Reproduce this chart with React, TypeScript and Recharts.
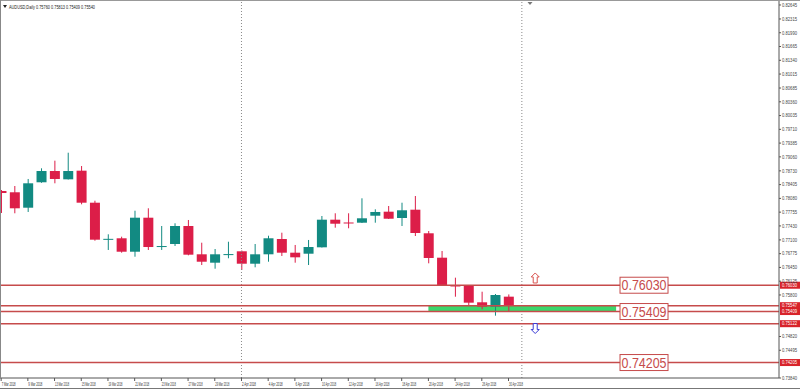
import {
  ComposedChart,
  Bar,
  XAxis,
  YAxis,
  ReferenceLine,
  ReferenceArea,
  ReferenceDot,
} from "recharts";

// AUDUSD daily, 7 Mar 2018 .. 30 Apr 2018
const dates = [
  "7 Mar 2018", "8 Mar 2018", "9 Mar 2018", "12 Mar 2018", "13 Mar 2018",
  "14 Mar 2018", "15 Mar 2018", "16 Mar 2018", "19 Mar 2018", "20 Mar 2018",
  "21 Mar 2018", "22 Mar 2018", "23 Mar 2018", "26 Mar 2018", "27 Mar 2018",
  "28 Mar 2018", "29 Mar 2018", "30 Mar 2018", "2 Apr 2018", "3 Apr 2018",
  "4 Apr 2018", "5 Apr 2018", "6 Apr 2018", "9 Apr 2018", "10 Apr 2018",
  "11 Apr 2018", "12 Apr 2018", "13 Apr 2018", "16 Apr 2018", "17 Apr 2018",
  "18 Apr 2018", "19 Apr 2018", "20 Apr 2018", "23 Apr 2018", "24 Apr 2018",
  "25 Apr 2018", "26 Apr 2018", "27 Apr 2018", "30 Apr 2018",
];

const opens = [
  0.78254, 0.78224, 0.7786, 0.7846, 0.78726, 0.7853, 0.78734, 0.77978, 0.77121,
  0.77138, 0.76821, 0.77624, 0.76949, 0.77003, 0.77428, 0.7676, 0.76562, 0.7676,
  0.76831, 0.76538, 0.7676, 0.77121, 0.76798, 0.76774, 0.76925, 0.77577, 0.77511,
  0.77506, 0.77671, 0.77766, 0.77617, 0.77813, 0.77256, 0.7668, 0.76024, 0.76028,
  0.75627, 0.75523, 0.7576,
];
const highs = [
  0.78278, 0.78372, 0.78538, 0.7879, 0.7897, 0.79158, 0.78844, 0.78025, 0.77232,
  0.77176, 0.77789, 0.77846, 0.77428, 0.77492, 0.7757, 0.77034, 0.76885, 0.77057,
  0.7685, 0.77003, 0.77199, 0.7727, 0.7698, 0.77098, 0.77664, 0.77728, 0.77728,
  0.78082, 0.77822, 0.779, 0.77978, 0.78136, 0.7731, 0.76838, 0.76208, 0.76035,
  0.75877, 0.75823, 0.75813,
];
const lows = [
  0.77735, 0.77728, 0.77759, 0.78448, 0.78436, 0.78526, 0.7794, 0.77081, 0.76862,
  0.76798, 0.76703, 0.76862, 0.76862, 0.76956, 0.76736, 0.76507, 0.7642, 0.76666,
  0.7639, 0.76453, 0.76585, 0.7672, 0.76562, 0.76507, 0.7692, 0.77388, 0.77374,
  0.77499, 0.77506, 0.77593, 0.77428, 0.77192, 0.76547, 0.76012, 0.75759, 0.7554,
  0.75462, 0.75311, 0.75409,
];
const closes = [
  0.78207, 0.77846, 0.78436, 0.78726, 0.78538, 0.78726, 0.77978, 0.77105, 0.77125,
  0.76821, 0.77624, 0.76932, 0.76955, 0.77428, 0.76751, 0.76585, 0.7676, 0.76765,
  0.76538, 0.7676, 0.77138, 0.76798, 0.76689, 0.76932, 0.77577, 0.77482, 0.77502,
  0.7761, 0.77759, 0.776, 0.77799, 0.77263, 0.76673, 0.76019, 0.76012, 0.75618,
  0.75523, 0.75799, 0.7554,
];

const priceTicks = [
  0.82645, 0.82315, 0.8199, 0.81665, 0.8134, 0.81015, 0.80685, 0.8036, 0.80035,
  0.7971, 0.79385, 0.7906, 0.7873, 0.78405, 0.7808, 0.77755, 0.7743, 0.771,
  0.76775, 0.7645, 0.76125, 0.758, 0.7482, 0.74495, 0.7384,
];

// horizontal levels drawn on the chart
const levels = [0.7603, 0.75547, 0.75409, 0.75122, 0.74205];
const boxedLevels = [0.7603, 0.75409, 0.74205];

// green buy zone
const zoneFrom = 32;
const zoneTo = 46.06;
const zoneLow = 0.75409;
const zoneHigh = 0.75547;

// month separators (2 Apr, 1 May)
const separators = [18, 39];

const arrowUp = { i: 40, price: 0.76201 };
const arrowDown = { i: 40, price: 0.75008 };
const labelAt = 48.15;

const BULL = "#128a82";
const BEAR = "#dc1e48";
const LEVEL = "#c64b4b";

const data = dates.map((d, i) => ({
  i,
  date: d,
  open: opens[i],
  high: highs[i],
  low: lows[i],
  close: closes[i],
  range: [lows[i], highs[i]],
}));

function Candle(props: any) {
  const { x, y, width, height, payload } = props;
  const { open, close, high, low } = payload;
  const top = Math.min(y, y + height);
  const span = Math.abs(height);
  const px = (v: number) => top + ((high - v) / (high - low)) * span;
  const color = close >= open ? BULL : BEAR;
  const cx = x + width / 2;
  const bodyTop = px(Math.max(open, close));
  const bodyH = Math.max(1, px(Math.min(open, close)) - bodyTop);
  return (
    <g>
      <line x1={cx} x2={cx} y1={top} y2={top + span} stroke={color} strokeWidth={1} />
      <rect x={x} y={bodyTop} width={width} height={bodyH} fill={color} />
    </g>
  );
}

function DateTick({ x, y, payload }: any) {
  return (
    <text x={x + 0.5} y={y + 3.5} fontSize={5} fill="#333" textLength={14} lengthAdjust="spacingAndGlyphs">
      {dates[payload.value]}
    </text>
  );
}

function PriceTick({ x, y, payload }: any) {
  return (
    <text x={x} y={y + 1.8} fontSize={5} fill="#444" textLength={15} lengthAdjust="spacingAndGlyphs">
      {payload.value.toFixed(5)}
    </text>
  );
}

function AxisFlag({ viewBox, value }: any) {
  const x = viewBox.x + viewBox.width + 1;
  const y = viewBox.y;
  return (
    <g>
      <rect x={x} y={y - 3.5} width={20} height={7} fill="#d8232a" />
      <text x={x + 2} y={y + 1.8} fontSize={5} fill="#fff" textLength={15} lengthAdjust="spacingAndGlyphs">
        {value}
      </text>
    </g>
  );
}

function LevelBox(value: number) {
  return (props: any) => (
    <g>
      <rect x={props.cx - 24} y={props.cy - 8} width={48} height={16} fill="#fff" stroke={LEVEL} strokeWidth={1} />
      <text
        x={props.cx - 22.5}
        y={props.cy + 5}
        fontSize={14}
        fill={LEVEL}
        fontFamily="Liberation Sans, Arial, sans-serif"
        textLength={45}
        lengthAdjust="spacingAndGlyphs"
      >
        {value.toFixed(5)}
      </text>
    </g>
  );
}

function Arrow(up: boolean, color: string) {
  return ({ cx, cy }: any) => {
    const s = up ? 1 : -1;
    const pts = [
      [0, -5], [4, -1], [2, -1], [2, 5], [-2, 5], [-2, -1], [-4, -1],
    ]
      .map(([dx, dy]) => `${cx + dx},${cy + dy * s}`)
      .join(" ");
    return <polygon points={pts} fill="#fff" stroke={color} strokeWidth={1} />;
  };
}

export default function App() {
  return (
    <div
      style={{
        position: "absolute",
        left: 0,
        top: 0,
        width: 800,
        height: 389,
        background: "#fff",
        fontFamily: "Liberation Sans, Arial, sans-serif",
      }}
    >
      <ComposedChart width={800} height={389} data={data} margin={{ top: 0, right: 0, bottom: 0, left: 0 }}>
        <XAxis
          dataKey="i"
          type="number"
          domain={[-0.086, 58.26]}
          allowDataOverflow
          ticks={dates.map((_, i) => i).filter((i) => i % 2 === 0)}
          interval={0}
          height={11}
          tick={<DateTick />}
          tickSize={3}
          tickMargin={1}
          axisLine={{ stroke: "#555" }}
          tickLine={{ stroke: "#555" }}
        />
        <YAxis
          orientation="right"
          type="number"
          domain={[0.7384, 0.82763]}
          allowDataOverflow
          ticks={priceTicks}
          interval={0}
          width={21}
          tick={<PriceTick />}
          tickSize={2}
          tickMargin={1}
          axisLine={{ stroke: "#555" }}
          tickLine={{ stroke: "#555" }}
        />
        <ReferenceArea
          x1={zoneFrom}
          x2={zoneTo}
          y1={zoneLow}
          y2={zoneHigh}
          fill="#3bd66b"
          fillOpacity={1}
          stroke="none"
        />
        {separators.map((s) => (
          <ReferenceLine key={s} x={s} stroke="#8a8a8a" strokeDasharray="1 2" />
        ))}
        <Bar dataKey="range" barSize={10} shape={Candle} isAnimationActive={false} />
        {levels.map((p) => (
          <ReferenceLine
            key={p}
            y={p}
            stroke={LEVEL}
            strokeWidth={1.4}
            label={<AxisFlag value={p.toFixed(5)} />}
          />
        ))}
        {boxedLevels.map((p) => (
          <ReferenceDot key={p} x={labelAt} y={p} r={1} shape={LevelBox(p)} />
        ))}
        <ReferenceDot x={arrowUp.i} y={arrowUp.price} r={1} shape={Arrow(true, "#d9534f")} />
        <ReferenceDot x={arrowDown.i} y={arrowDown.price} r={1} shape={Arrow(false, "#3a3ad6")} />
      </ComposedChart>
      <svg width={800} height={389} style={{ position: "absolute", left: 0, top: 0, pointerEvents: "none" }}>
        <line x1={0} x2={800} y1={0.5} y2={0.5} stroke="#999" />
        <line x1={0.5} x2={0.5} y1={0} y2={378} stroke="#888" />
        <line x1={0} x2={800} y1={388.5} y2={388.5} stroke="#777" />
        <polygon points="527.5,2 532.5,2 530,5" fill="#777" />
        <polygon points="3,5 7,5 5,8" fill="#222" />
        <text x={9} y={8.5} fontSize={5} fill="#222" textLength={86} lengthAdjust="spacingAndGlyphs">
          AUDUSD,Daily  0.75760 0.75813 0.75409 0.75540
        </text>
      </svg>
    </div>
  );
}
